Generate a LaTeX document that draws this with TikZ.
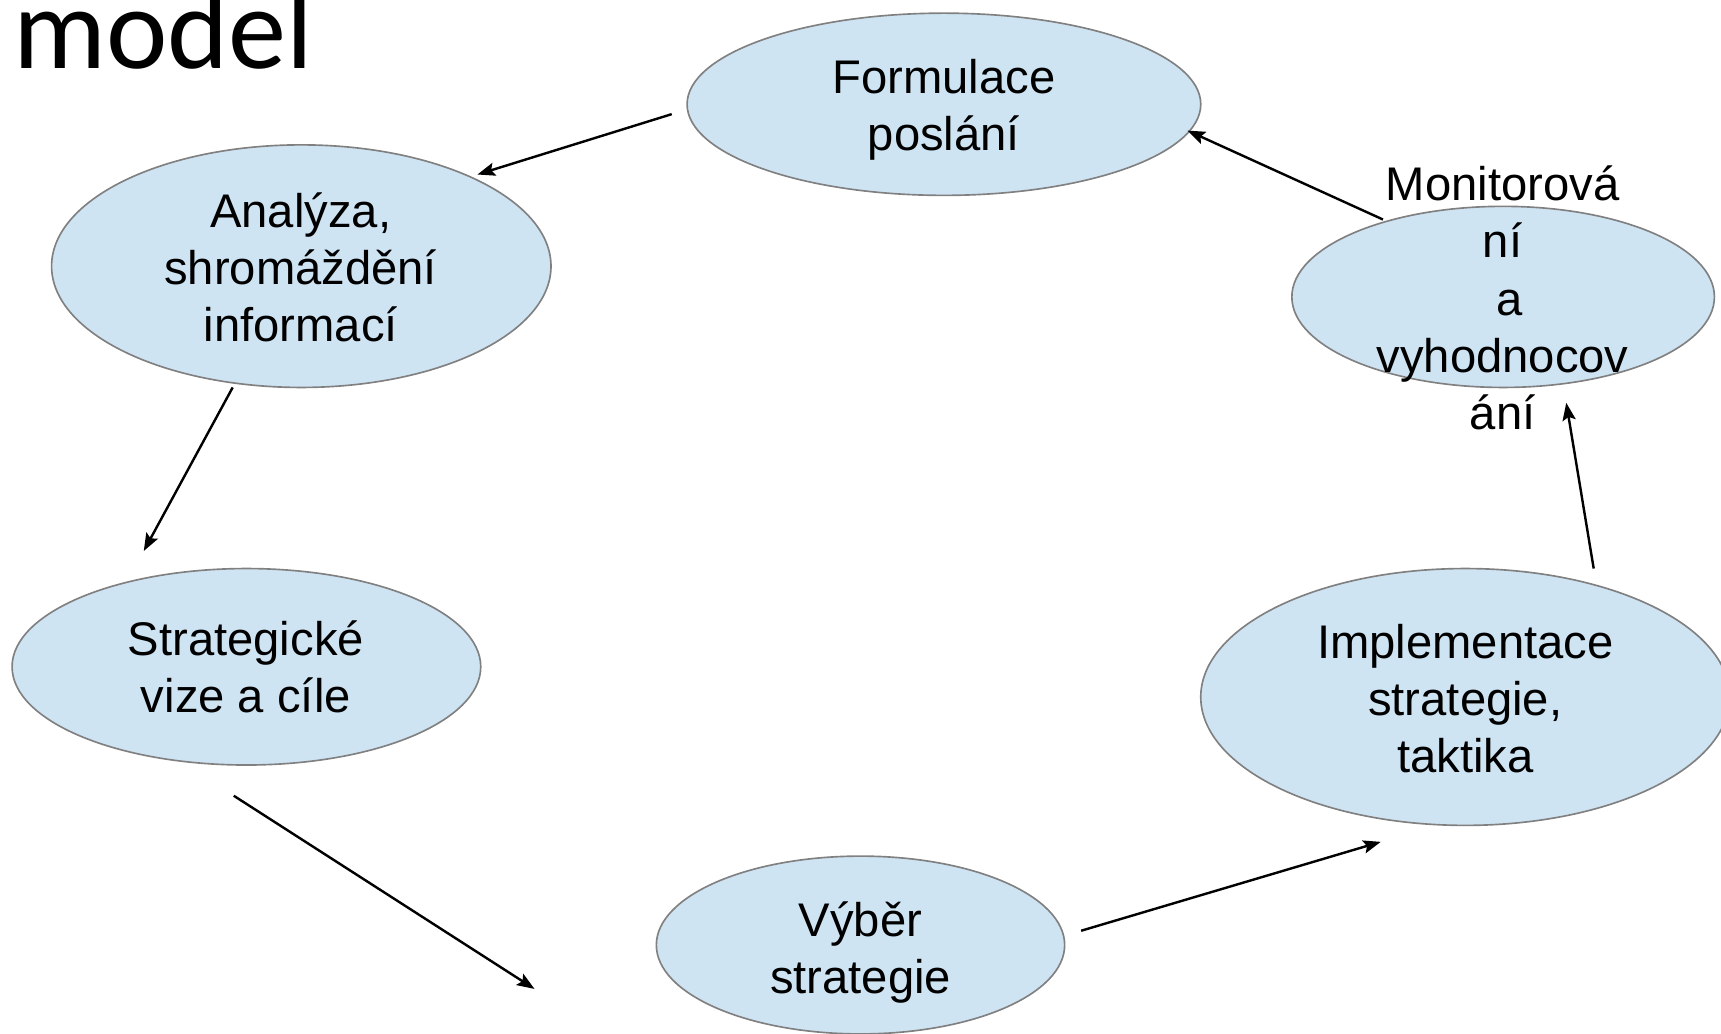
\documentclass[tikz,border=0pt]{standalone}
\usepackage{fontspec}
\setmainfont{Liberation Sans}
\newfontfamily\titlefont{Carlito}
\usetikzlibrary{shapes.geometric,arrows.meta}
\definecolor{ellfill}{RGB}{207,228,243}
\definecolor{elldraw}{RGB}{128,128,128}
\tikzset{
  ell/.style={ellipse, draw=elldraw, fill=ellfill, line width=1.5pt, inner sep=0pt},
  txt/.style={align=center, inner sep=0pt, font=\fontsize{43}{52}\selectfont,
    execute at begin node=\strut, execute at end node=\strut},
  conn/.style={line width=2.2pt, -{Stealth[length=16pt,width=12pt,inset=3pt]}}
}
\begin{document}
\begin{tikzpicture}[x=1pt,y=-1pt]
\useasboundingbox (0,0) rectangle (1568,942);
% title
\node[anchor=base west, inner sep=0pt, font=\titlefont\fontsize{106}{118}\selectfont] (title) at (12,62) {model};
% ellipses
\node[ell, minimum width=468pt, minimum height=166pt] (f) at (860,95) {};
\node[ell, minimum width=455pt, minimum height=221pt] (an) at (274.5,242.5) {};
\node[ell, minimum width=427pt, minimum height=179pt] (sv) at (224.5,607.5) {};
\node[ell, minimum width=372pt, minimum height=162pt] (vs) at (784,861) {};
\node[ell, minimum width=482pt, minimum height=234pt] (im) at (1335,635) {};
\node[ell, minimum width=385pt, minimum height=165pt] (mo) at (1369.5,270.5) {};
% texts
\node[txt] (ft) at (860,103) {Formulace\\poslání};
\node[txt] (ant) at (274,251) {Analýza,\\shromáždění\\informací};
\node[txt] (svt) at (224,615) {Strategické\\vize a cíle};
\node[txt] (vst) at (784,871) {Výběr\\strategie};
\node[txt] (imt) at (1335,644) {Implementace\\strategie,\\taktika};
\node[txt] (mot) at (1369,279) {Monitorová\\ní\\\ a\\vyhodnocov\\ání};
% connector end points
\coordinate (a1) at (612,104); \coordinate (a2) at (435,159);
\coordinate (b1) at (212,353); \coordinate (b2) at (131,502);
\coordinate (c1) at (213,725); \coordinate (c2) at (487,901);
\coordinate (d1) at (985,848); \coordinate (d2) at (1258,767);
\coordinate (e1) at (1452,518); \coordinate (e2) at (1427,367);
\coordinate (g1) at (1260,200); \coordinate (g2) at (1082,119);
\draw[conn] (a1) -- (a2);
\draw[conn] (b1) -- (b2);
\draw[conn] (c1) -- (c2);
\draw[conn] (d1) -- (d2);
\draw[conn] (e1) -- (e2);
\draw[conn] (g1) -- (g2);
\end{tikzpicture}
\end{document}
